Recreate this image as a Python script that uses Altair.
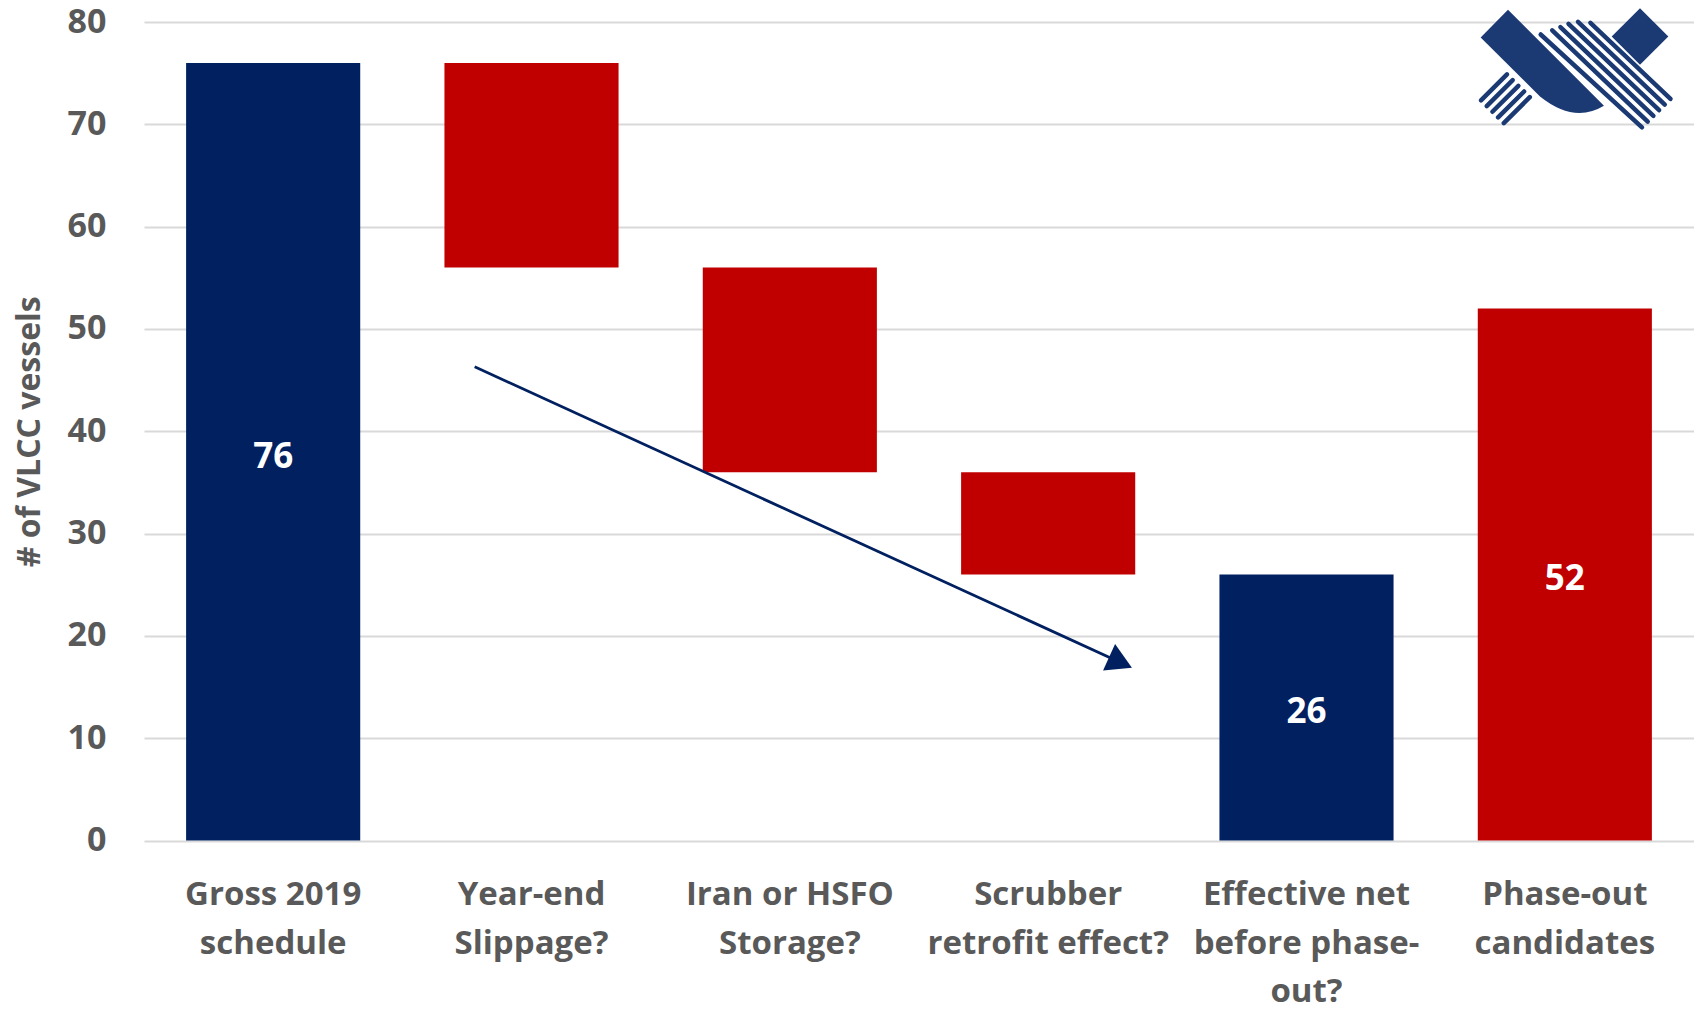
import altair as alt
import pandas as pd

# ---- waterfall data -------------------------------------------------------
categories = [
    "Gross 2019\nschedule",
    "Year-end\nSlippage?",
    "Iran or HSFO\nStorage?",
    "Scrubber\nretrofit effect?",
    "Effective net\nbefore phase-\nout?",
    "Phase-out\ncandidates",
]
step_values = [76, -20, -20, -10, 26, 52]
step_kind = ["total", "change", "change", "change", "total", "total"]
bar_group = ["fleet", "reduction", "reduction", "reduction", "fleet", "phase-out"]

group_names = ["fleet", "reduction", "phase-out"]
group_colors = ["#002060", "#C00000", "#C00000"]

# trend arrow drawn across the reductions (x in category slots, y in vessels)
trend_arrow_x = [1.28, 3.78]
trend_arrow_y = [46.3, 17.4]

# ---- build floating-bar table --------------------------------------------
rows = []
running = 0
for cat, val, kind, grp in zip(categories, step_values, step_kind, bar_group):
    if kind == "total":
        low, high = 0, val
        running = val
        label = str(val)
    else:
        high = running
        low = running + val
        running = low
        label = ""
    rows.append({"category": cat, "low": low, "high": high,
                 "mid": (low + high) / 2, "group": grp, "label": label})
bars_df = pd.DataFrame(rows)

FONT = "Open Sans"
GREY = "#595959"
GRID = "#D9D9D9"
NAVY = "#002060"
LOGO = "#1B3A73"

y_scale = alt.Scale(domain=[0, 80], nice=False, zero=True)
x_band = alt.Scale(domain=categories, paddingInner=0.326, paddingOuter=0.163)
x_slots = alt.Scale(domain=[0, 6], nice=False, zero=False)

y_axis = alt.Axis(values=list(range(0, 81, 10)), grid=True,
                  gridColor=GRID, gridWidth=2, domain=False,
                  ticks=False, tickSize=0, labelPadding=38,
                  labelFont=FONT, labelFontSize=34,
                  labelFontWeight="bold", labelColor=GREY,
                  titleFont=FONT, titleFontSize=32,
                  titleFontWeight="bold", titleColor=GREY,
                  titlePadding=21)
x_axis = alt.Axis(labelAngle=0, labelFont=FONT, labelFontSize=33,
                  labelFontWeight="bold", labelColor=GREY,
                  labelLineHeight=48.5, labelPadding=38, labelLimit=400,
                  labelOverlap=False, ticks=False, tickSize=0,
                  domain=False, grid=False,
                  labelExpr="split(datum.value, '\\n')")

bars = alt.Chart(bars_df).mark_bar().encode(
    x=alt.X("category:N", scale=x_band, sort=categories, title=None, axis=x_axis),
    y=alt.Y("low:Q", scale=y_scale, title="# of VLCC vessels", axis=y_axis),
    y2="high:Q",
    color=alt.Color("group:N", scale=alt.Scale(domain=group_names, range=group_colors),
                    legend=None),
)

values = alt.Chart(bars_df).mark_text(
    color="white", font=FONT, fontSize=35, fontWeight="bold",
    baseline="middle", dy=5
).encode(
    x=alt.X("category:N", scale=x_band, sort=categories, title=None, axis=x_axis),
    y=alt.Y("mid:Q", scale=y_scale, title="# of VLCC vessels", axis=y_axis),
    text="label:N",
)

waterfall = alt.layer(bars, values)


def overlay(chart, xf, yf, x2f=None, y2f=None):
    enc = {
        "x": alt.X(xf, scale=x_slots, axis=None),
        "y": alt.Y(yf, scale=y_scale, axis=None),
    }
    if x2f:
        enc["x2"] = x2f
        enc["y2"] = y2f
    return chart.encode(**enc)


# ---- trend arrow ---------------------------------------------------------
arrow_df = pd.DataFrame({"x1": [trend_arrow_x[0]], "y1": [trend_arrow_y[0]],
                         "x2": [trend_arrow_x[1]], "y2": [trend_arrow_y[1]]})
arrow_line = overlay(alt.Chart(arrow_df).mark_rule(color=NAVY, strokeWidth=2.8),
                     "x1:Q", "y1:Q", "x2:Q", "y2:Q")
arrow_head = overlay(alt.Chart(arrow_df).mark_point(
    shape="triangle-right", filled=True, size=841, angle=24.5,
    color=NAVY, opacity=1), "x2:Q", "y2:Q")

# ---- company mark in the top-right corner --------------------------------
BAND_SHAPE = "M-1.022,-0.367L-0.567,-0.828L1.033,0.772Q0.534,1.072,-0.033,0.617Z"
band = overlay(alt.Chart(pd.DataFrame({"x": [5.4116], "y": [76.341]})).mark_point(
    shape=BAND_SHAPE, filled=True, size=14400, color=LOGO, opacity=1),
    "x:Q", "y:Q")
diamond = overlay(alt.Chart(pd.DataFrame({"x": [5.7910], "y": [78.585]})).mark_point(
    shape="diamond", filled=True, size=3204, color=LOGO, opacity=1),
    "x:Q", "y:Q")

stripe_du, stripe_dv = 0.02206, 0.5561
ur_tops = [(5.4065, 78.780), (5.4511, 79.190), (5.4829, 79.502),
           (5.5142, 79.824), (5.5510, 80.010), (5.5990, 79.912)]
stripe_rows = []
for k, (tx, ty) in enumerate(ur_tops):
    stripe_rows.append({"x1": tx, "y1": ty,
                        "x2": 5.7987 + stripe_du * k, "y2": 69.707 + stripe_dv * k})
for k in range(5):
    stripe_rows.append({"x1": 5.2761 + stripe_du * k, "y1": 74.878 - stripe_dv * k,
                        "x2": 5.1755 + stripe_du * k, "y2": 72.341 - stripe_dv * k})
stripes = overlay(alt.Chart(pd.DataFrame(stripe_rows)).mark_rule(
    color=LOGO, strokeWidth=4.5, strokeCap="round"),
    "x1:Q", "y1:Q", "x2:Q", "y2:Q")

chart = alt.layer(
    waterfall, arrow_line, arrow_head, band, diamond, stripes
).resolve_scale(
    x="independent", y="independent"
).resolve_axis(
    x="independent", y="independent"
).properties(
    width=1550,
    height=818.5,
    autosize=alt.AutoSizeParams(type="none"),
    padding={"left": 144, "top": 22, "right": 0, "bottom": 168.5},
    background="white",
).configure_view(stroke=None)

chart.save("out.html", embed_options={"renderer": "svg", "actions": False})
